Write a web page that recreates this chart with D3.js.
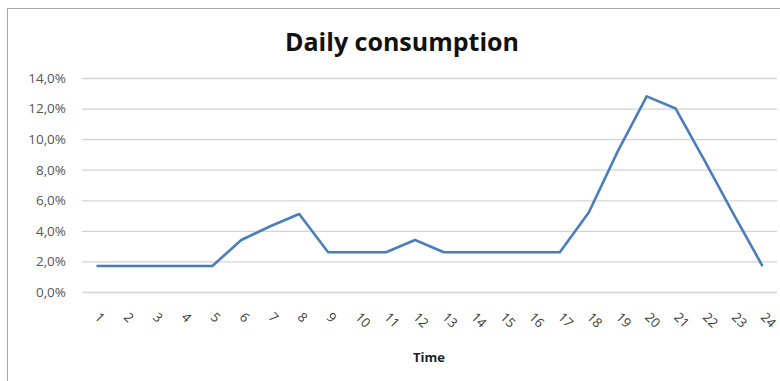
<!DOCTYPE html>
<html>
<head>
<meta charset="utf-8">
<script src="https://cdn.jsdelivr.net/npm/d3@7/dist/d3.min.js"></script>
<style>
  html, body { margin: 0; padding: 0; background: #ffffff; }
  svg { display: block; }
</style>
</head>
<body>
<svg id="chart" width="780" height="381"></svg>
<script>
// Hourly share of daily consumption (percent)
const hours = ["1","2","3","4","5","6","7","8","9","10","11","12",
               "13","14","15","16","17","18","19","20","21","22","23","24"];
const consumption = [1.7, 1.7, 1.7, 1.7, 1.7, 3.4, 4.3, 5.1, 2.6, 2.6, 2.6, 3.4,
                     2.6, 2.6, 2.6, 2.6, 2.6, 5.2, 9.2, 12.8, 12.0, 8.6, 5.1, 1.7];
const yTicks = [0, 2, 4, 6, 8, 10, 12, 14];
const titleText = "Daily consumption";
const xTitleText = "Time";

const svg = d3.select("#chart");
const W = 780, H = 381;
const plot = { left: 82, right: 777, top: 78, bottom: 292 };

// Comma decimal separator for the percent labels
const locale = d3.formatLocale({ decimal: ",", thousands: ".", grouping: [3], currency: ["", "€"] });
const fmt = v => locale.format(".1f")(v) + "%";

const x = d3.scalePoint().domain(hours).range([plot.left, plot.right]).padding(0.5);
const y = d3.scaleLinear().domain([0, 14]).range([plot.bottom, plot.top]);

// Chart frame
svg.append("rect")
  .attr("x", 7.5).attr("y", 8.5)
  .attr("width", W + 10).attr("height", H + 10)
  .attr("fill", "#ffffff")
  .attr("stroke", "#a6a6a6")
  .attr("stroke-width", 1);

// Horizontal gridlines + y labels
const yAxis = d3.axisLeft(y).tickValues(yTicks).tickFormat(fmt)
  .tickSize(-(plot.right - plot.left)).tickPadding(16);
const gy = svg.append("g").attr("transform", `translate(${plot.left},0)`).call(yAxis);
gy.select(".domain").remove();
gy.selectAll(".tick line").attr("stroke", "#d4d4d4").attr("stroke-width", 1.3);
gy.selectAll(".tick text")
  .attr("fill", "#555555")
  .style("font-family", "'Open Sans', 'Noto Sans', sans-serif")
  .style("font-size", "13.5px");

// Category axis labels, rotated
const xAxis = d3.axisBottom(x).tickSize(0).tickPadding(0);
const gx = svg.append("g").attr("transform", `translate(0,${plot.bottom})`).call(xAxis);
gx.select(".domain").remove();
gx.selectAll(".tick text")
  .attr("fill", "#3a3a3a")
  .style("font-family", "'Open Sans', 'Noto Sans', sans-serif")
  .style("font-size", "13px")
  .attr("text-anchor", "start")
  .attr("dy", null)
  .attr("y", 0)
  .attr("transform", "translate(-3,26) rotate(45)");

// Consumption line
const line = d3.line()
  .x((d, i) => x(hours[i]))
  .y(d => y(d));
svg.append("path")
  .datum(consumption)
  .attr("d", line)
  .attr("fill", "none")
  .attr("stroke", "#4a7ebb")
  .attr("stroke-width", 2.6)
  .attr("stroke-linejoin", "round")
  .attr("stroke-linecap", "butt");

// Titles
svg.append("text")
  .attr("x", 402).attr("y", 50.5)
  .attr("text-anchor", "middle")
  .attr("fill", "#111111")
  .style("font-family", "'Open Sans', 'Noto Sans', sans-serif")
  .style("font-weight", "700")
  .style("font-size", "25px")
  .text(titleText);

svg.append("text")
  .attr("x", 429).attr("y", 362)
  .attr("text-anchor", "middle")
  .attr("fill", "#222222")
  .style("font-family", "'Open Sans', 'Noto Sans', sans-serif")
  .style("font-weight", "700")
  .style("font-size", "13px")
  .text(xTitleText);
</script>
</body>
</html>
